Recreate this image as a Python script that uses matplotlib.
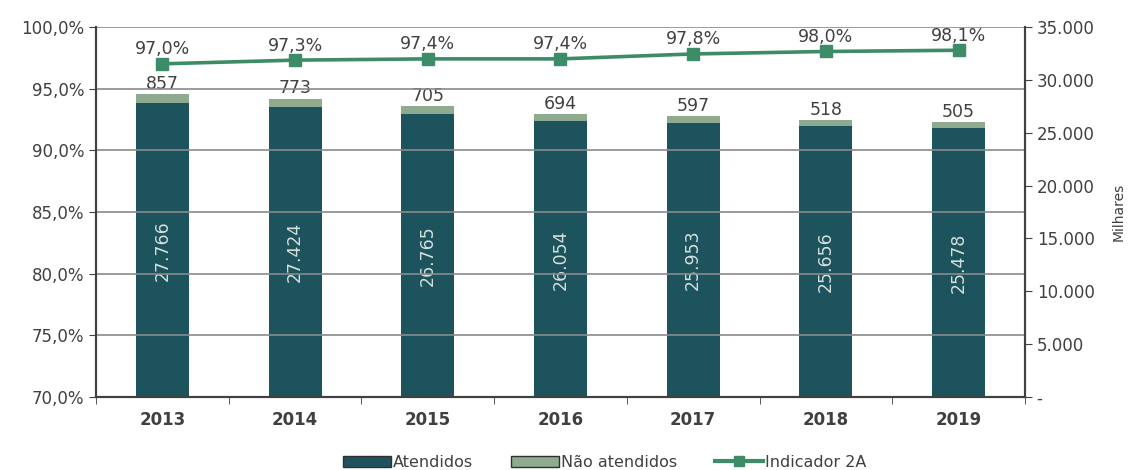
import numpy as np
import matplotlib
matplotlib.use("Agg")
import matplotlib.pyplot as plt
from matplotlib.ticker import FuncFormatter
from matplotlib.patches import Patch
from matplotlib.lines import Line2D

years = ["2013", "2014", "2015", "2016", "2017", "2018", "2019"]
atendidos = [27766, 27424, 26765, 26054, 25953, 25656, 25478]
nao_atendidos = [857, 773, 705, 694, 597, 518, 505]
indicador = [97.0, 97.3, 97.4, 97.4, 97.8, 98.0, 98.1]

dark = "#1d535c"
light = "#8fab8f"
green = "#3d8c68"
txt = "#404040"

fig = plt.figure(figsize=(11.3, 4.7), dpi=100)
ax = fig.add_axes([0.085, 0.155, 0.822, 0.788])
ax2 = ax.twinx()

x = np.arange(len(years))

# barras no eixo da direita (milhares)
ax2.bar(x, atendidos, width=0.4, color=dark, zorder=2)
ax2.bar(x, nao_atendidos, width=0.4, bottom=atendidos, color=light, zorder=2)
for i in range(len(years)):
    ax2.text(x[i], atendidos[i] / 2, f"{atendidos[i]:,}".replace(",", "."),
             rotation=90, ha="center", va="center", color="#d5e0de", fontsize=12.5)
    ax2.text(x[i], atendidos[i] + nao_atendidos[i] + 150, str(nao_atendidos[i]),
             ha="center", va="bottom", color=txt, fontsize=12.5)
ax2.set_ylim(0, 35000)
ax2.set_yticks(range(0, 35001, 5000))
ax2.yaxis.set_major_formatter(FuncFormatter(
    lambda v, p: "-" if v == 0 else f"{int(v):,}".replace(",", ".")))
ax2.set_ylabel("Milhares", color=txt, fontsize=10, labelpad=12)

# linha do indicador no eixo da esquerda
ax.set_zorder(ax2.get_zorder() + 1)
ax.patch.set_visible(False)
ax.plot(x, indicador, color=green, lw=2.6, marker="s", markersize=9, zorder=3)
for i in range(len(years)):
    ax.text(x[i], indicador[i] + 0.45, f"{indicador[i]:.1f}%".replace(".", ","),
            ha="center", va="bottom", color=txt, fontsize=12.5)
ax.set_ylim(70, 100)
ax.set_yticks(range(70, 101, 5))
ax.yaxis.set_major_formatter(FuncFormatter(lambda v, p: f"{v:.1f}%".replace(".", ",")))
ax.set_xlim(-0.5, len(years) - 0.5)
ax.set_xticks(x)
ax.set_xticklabels(years, fontweight="bold")
ax.set_xticks(np.arange(-0.5, len(years)), minor=True)
ax.tick_params(axis="x", which="major", length=0, pad=10, labelsize=12, labelcolor=txt)
ax.tick_params(axis="x", which="minor", length=5, color="#404040")
ax.grid(axis="y", color="#8a8a8a", lw=1.2, zorder=0)
ax.tick_params(axis="y", labelsize=12, labelcolor=txt, length=5, color="#404040")
ax2.tick_params(axis="y", labelsize=12, labelcolor=txt, length=5, color="#404040")

for a in (ax, ax2):
    a.spines["top"].set_visible(False)
    for s in ("left", "right", "bottom"):
        a.spines[s].set_color("#404040")
        a.spines[s].set_linewidth(1.5)

handles = [
    Patch(facecolor=dark, edgecolor="#303030"),
    Patch(facecolor=light, edgecolor="#303030"),
    Line2D([0], [0], color=green, lw=3, marker="s", markersize=7),
]
fig.legend(handles, ["Atendidos", "Não atendidos", "Indicador 2A"],
           loc="lower center", bbox_to_anchor=(0.535, -0.03), ncol=3, frameon=False,
           fontsize=11.5, labelcolor=txt, handlelength=3.0, handletextpad=0.1,
           columnspacing=2.4)

fig.savefig("out.png", dpi=100)
